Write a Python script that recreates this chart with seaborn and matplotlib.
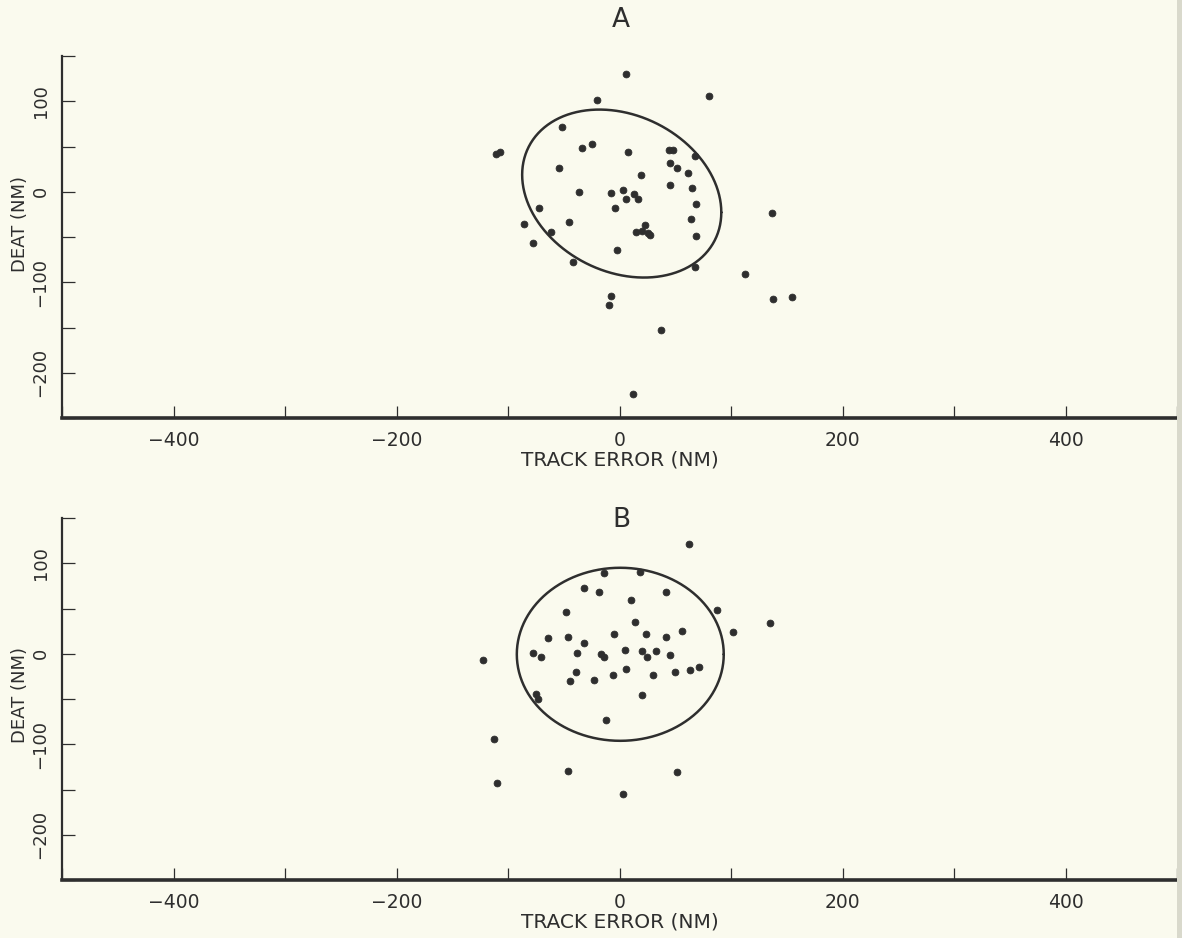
import numpy as np
import pandas as pd
import matplotlib
matplotlib.use("Agg")
import matplotlib.pyplot as plt
import seaborn as sns
from matplotlib.patches import Rectangle

# Forecast errors, panel A (track error vs. DEAT, nautical miles)
track_a = [6, 80, -20, -52, -111, -107, -34, -25, 8, 44, 48, 68, 45, 52, 61, -54, 19,
           45, 65, -36, -8, 3, 6, 13, 17, -4, 69, -72, 64, -86, -45, 15, 23, 26, 27,
           20, -61, 69, -78, -2, -42, 68, 137, 113, -8, -9, 138, 155, 37, 12]
deat_a = [130, 106, 101, 72, 42, 44, 48, 53, 44, 46, 46, 40, 32, 26, 21, 26, 18,
          7, 4, 0, -1, 2, -8, -3, -8, -18, -13, -18, -30, -36, -33, -44, -37, -46, -48,
          -43, -45, -49, -57, -64, -78, -83, -23, -91, -115, -125, -118, -116, -153, -223]

# Forecast errors, panel B
track_b = [62, -14, 18, -32, -18, 42, 10, -48, 87, 14, 135, 102, 56, -64, -46, -5, 24,
           42, -32, -78, -70, -38, -17, -14, 5, 20, 25, 33, 45, -122, -39, 6, 30, 50,
           63, 71, -44, -23, -6, -75, -73, 20, -12, -113, -46, 52, -110, 3]
deat_b = [121, 89, 90, 73, 68, 68, 59, 46, 48, 35, 34, 24, 25, 17, 19, 22, 22,
          19, 12, 1, -4, 1, 0, -4, 4, 3, -4, 3, -1, -7, -20, -17, -23, -20,
          -18, -15, -30, -29, -24, -44, -50, -46, -73, -94, -130, -131, -143, -155]

# Error ellipses: centre, half-extent along each axis, correlation
ellipse_a = dict(cx=2.0, cy=-2.0, sx=89.3, sy=92.8, rho=-0.224)
ellipse_b = dict(cx=0.7, cy=-0.6, sx=92.8, sy=95.6, rho=0.0)

# Axis ticks and labels
x_ticks = [-500, -400, -300, -200, -100, 0, 100, 200, 300, 400, 500]
x_tick_labels = ["", "\u2212400", "", "\u2212200", "", "0", "", "200", "", "400", ""]
y_ticks = [-250, -200, -150, -100, -50, 0, 50, 100, 150]
y_tick_labels = ["", "\u2212200", "", "\u2212100", "", "0", "", "100", ""]
panel_titles = ["A", "B"]
x_label = "TRACK ERROR (NM)"
y_label = "DEAT (NM)"

PAPER = "#fafaee"
INK = "#2e2e2e"

sns.set_theme(style="ticks")
plt.rcParams["font.family"] = ["DejaVu Sans"]


def ellipse_frame(p, n=361):
    t = np.linspace(0, 2 * np.pi, n)
    x = p["cx"] + p["sx"] * np.cos(t)
    y = p["cy"] + p["sy"] * (p["rho"] * np.cos(t) + np.sqrt(1 - p["rho"] ** 2) * np.sin(t))
    return pd.DataFrame({"x": x, "y": y, "order": np.arange(n)})


W, H = 1182, 938
fig = plt.figure(figsize=(W / 100, H / 100), dpi=100, facecolor=PAPER)

# shaded page edge on the right
fig.patches.append(Rectangle((1 - 5 / W, 0), 5 / W, 1, transform=fig.transFigure,
                             facecolor="#d9d9cc", edgecolor="none", zorder=0))

panels = [
    (418, track_a, deat_a, ellipse_a, 0.537, 20),
    (880, track_b, deat_b, ellipse_b, 0.511, 520),
]

for (bottom_px, xs, ys, ell, ylab_y, title_px), title in zip(panels, panel_titles):
    ax = fig.add_axes([62 / W, 1 - bottom_px / H, 1115 / W, 362 / H])
    ax.set_facecolor(PAPER)

    pts = pd.DataFrame({"track": xs, "deat": ys})
    sns.scatterplot(data=pts, x="track", y="deat", ax=ax, s=24, marker="o",
                    color=INK, edgecolor=INK, linewidth=0.6, zorder=3)
    sns.lineplot(data=ellipse_frame(ell), x="x", y="y", ax=ax, sort=False,
                 estimator=None, color=INK, linewidth=1.8, zorder=2)

    ax.set_xlim(-500, 500)
    ax.set_ylim(-250, 150)
    ax.set_xticks(x_ticks)
    ax.set_xticklabels(x_tick_labels, fontsize=13.5, color=INK)
    ax.set_yticks(y_ticks)
    ax.set_yticklabels(y_tick_labels, fontsize=13, color=INK, rotation=90, va="center")

    ax.tick_params(axis="both", direction="in", length=9, width=0.9, color=INK)
    ax.tick_params(axis="x", pad=9)
    ax.tick_params(axis="y", pad=9)

    for side in ("top", "right"):
        ax.spines[side].set_visible(False)
    ax.spines["left"].set_linewidth(1.6)
    ax.spines["left"].set_color(INK)
    ax.spines["bottom"].set_linewidth(2.6)
    ax.spines["bottom"].set_color(INK)

    ax.set_xlabel(x_label, fontsize=14.5, color=INK, va="center")
    ax.xaxis.set_label_coords(0.5, -0.116)
    ax.set_ylabel(y_label, fontsize=13, color=INK, va="center")
    ax.yaxis.set_label_coords(-0.038, ylab_y)

    fig.text(621 / W, 1 - title_px / H, title, ha="center", va="center",
             fontsize=19, color=INK)

fig.savefig("out.png", dpi=100, facecolor=PAPER)
